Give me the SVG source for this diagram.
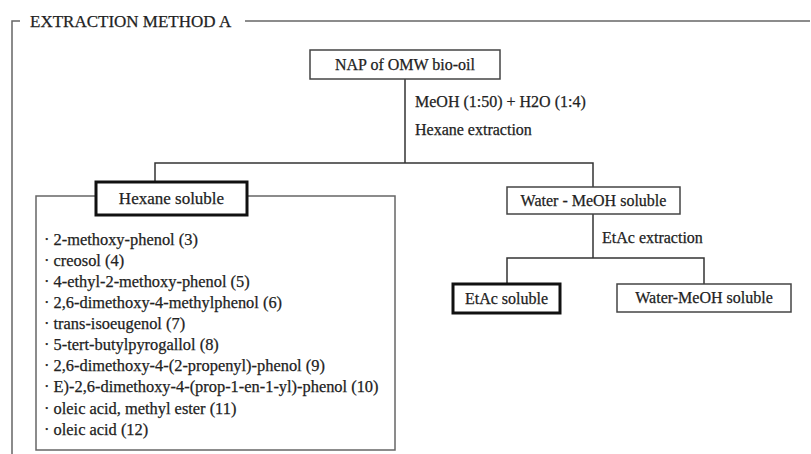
<svg xmlns="http://www.w3.org/2000/svg" width="811" height="454" viewBox="0 0 811 454">
<style>
text{font-family:"Liberation Serif","Times New Roman",serif;fill:#222;stroke:#222;stroke-width:0.25;}
.t16{font-size:16px;}
.t17{font-size:17px;}
.li{font-size:16.4px;}
.box{fill:#fff;stroke:#444;stroke-width:1.5;}
.thick{fill:#fff;stroke:#111;stroke-width:3;}
.ln{fill:none;stroke:#333;stroke-width:1.5;}
.frame{fill:none;stroke:#666;stroke-width:1.5;}
</style>
<rect width="811" height="454" fill="#fff"/>
<g id="frame">
<polyline class="frame" points="20,21 12,21 12,454"/>
<line class="frame" x1="245" y1="21" x2="810" y2="21"/>
<text class="t17" x="30" y="27">EXTRACTION METHOD A</text>
</g>
<g id="connectors">
<line class="ln" x1="405" y1="79" x2="405" y2="163"/>
<polyline class="ln" points="155,183 155,163 593,163 593,187"/>
<line class="ln" x1="593" y1="214" x2="593" y2="258"/>
<polyline class="ln" points="507,284 507,258 704,258 704,284"/>
<text class="t16" x="415" y="107">MeOH (1:50) + H2O (1:4)</text>
<text class="t16" x="415" y="135">Hexane extraction</text>
<text class="t16" x="602" y="243">EtAc extraction</text>
</g>
<g id="list">
<rect x="36" y="196" width="359" height="254" fill="#fff" stroke="#666" stroke-width="1.5"/>
<text class="li" x="44" y="245">· 2-methoxy-phenol (3)</text>
<text class="li" x="44" y="266">· creosol (4)</text>
<text class="li" x="44" y="287">· 4-ethyl-2-methoxy-phenol (5)</text>
<text class="li" x="44" y="308">·  2,6-dimethoxy-4-methylphenol (6)</text>
<text class="li" x="44" y="329">· trans-isoeugenol (7)</text>
<text class="li" x="44" y="350">· 5-tert-butylpyrogallol (8)</text>
<text class="li" x="44" y="371">· 2,6-dimethoxy-4-(2-propenyl)-phenol (9)</text>
<text class="li" x="44" y="392">· E)-2,6-dimethoxy-4-(prop-1-en-1-yl)-phenol (10)</text>
<text class="li" x="44" y="414">· oleic acid, methyl ester (11)</text>
<text class="li" x="44" y="435">· oleic acid (12)</text>
</g>
<g id="nap">
<rect class="box" x="310" y="50" width="190" height="29"/>
<text class="t16" x="405" y="70" text-anchor="middle">NAP of OMW bio-oil</text>
</g>
<g id="hexane">
<rect class="thick" x="96" y="182" width="151" height="33"/>
<text class="t17" x="171.5" y="204" text-anchor="middle">Hexane soluble</text>
</g>
<g id="watermeoh">
<rect class="box" x="507" y="187" width="173" height="27"/>
<text class="t16" x="593.5" y="206" text-anchor="middle">Water - MeOH soluble</text>
</g>
<g id="etac">
<rect class="thick" x="453" y="284" width="107" height="29"/>
<text class="t16" x="506.5" y="304" text-anchor="middle">EtAc soluble</text>
</g>
<g id="watermeoh2">
<rect class="box" x="617" y="284" width="174" height="28"/>
<text class="t16" x="704" y="303" text-anchor="middle">Water-MeOH soluble</text>
</g>
</svg>
